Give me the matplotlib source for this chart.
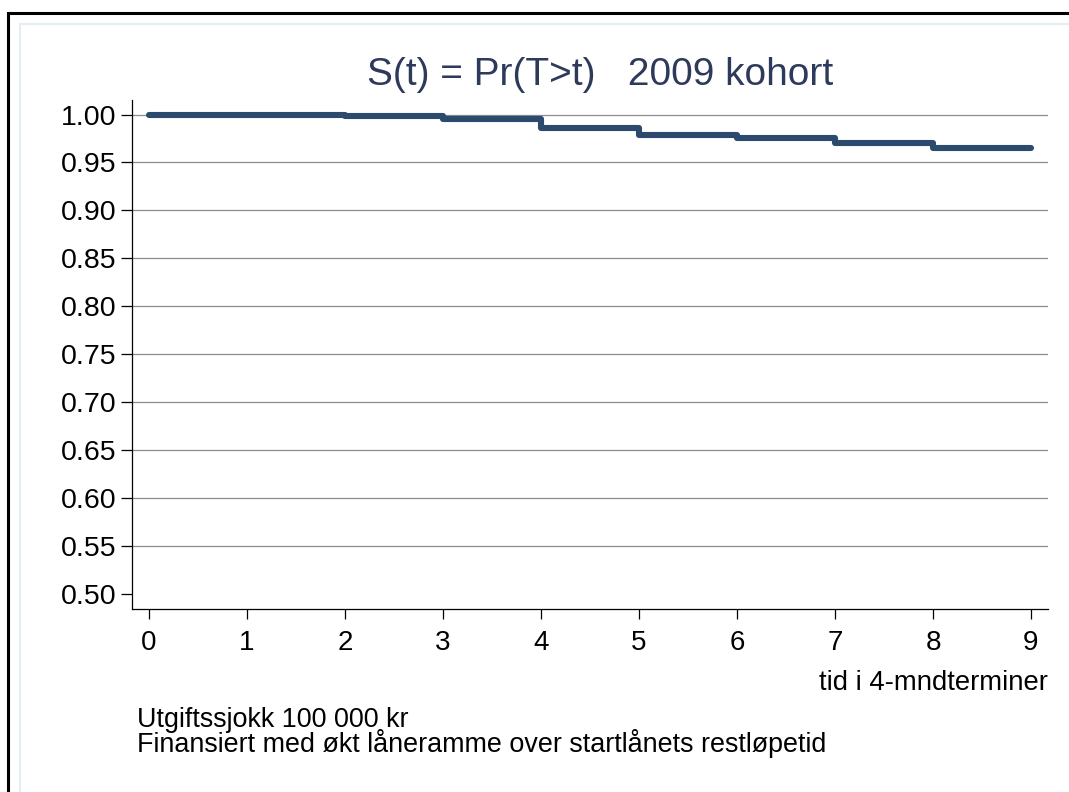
import matplotlib
matplotlib.use("Agg")
import matplotlib.pyplot as plt
from matplotlib.patches import Rectangle

# survival estimates per 4-month term
tid = [0, 1, 2, 3, 4, 5, 6, 7, 8, 9]
overlevelse = [1.000, 1.000, 0.998, 0.9953, 0.9856, 0.9786, 0.9752, 0.9699, 0.9647, 0.9647]

y_ticks = [0.50, 0.55, 0.60, 0.65, 0.70, 0.75, 0.80, 0.85, 0.90, 0.95, 1.00]
x_ticks = [0, 1, 2, 3, 4, 5, 6, 7, 8, 9]

plt.rcParams['font.family'] = ['Liberation Sans', 'DejaVu Sans']

W, H = 1069, 792
fig = plt.figure(figsize=(W / 100, H / 100), dpi=100)

# outer black frame and light inner frame (cropped at right/bottom)
fig.patches.append(Rectangle((8 / W, -0.1), 1.2, 1 - 13 / H + 0.1, transform=fig.transFigure,
                             fill=False, edgecolor='black', linewidth=2.2))
fig.patches.append(Rectangle((19.5 / W, -0.1), 1.2, 1 - 24 / H + 0.1, transform=fig.transFigure,
                             fill=False, edgecolor='#e6edf2', linewidth=1.5))

ax = fig.add_axes([132 / W, 1 - 609 / H, (1048 - 132) / W, (609 - 100) / H])
ax.step(tid, overlevelse, where='post', color='#2b4a6e', linewidth=4.4,
        solid_capstyle='round', solid_joinstyle='round', zorder=3)

ax.set_xlim(-17 / 98, 9 + 17 / 98)
ax.set_ylim(0.5 - 15 / 958, 1.0 + 14.5 / 958)
ax.set_yticks(y_ticks)
ax.set_yticklabels([f"{v:.2f}" for v in y_ticks])
ax.set_xticks(x_ticks)

for s in ['top', 'right']:
    ax.spines[s].set_visible(False)
for s in ['left', 'bottom']:
    ax.spines[s].set_linewidth(0.9)

ax.tick_params(axis='y', length=8, width=0.9, labelsize=20.5, pad=3)
ax.tick_params(axis='x', length=7, width=0.9, labelsize=20, pad=8)

ax.yaxis.grid(True, color='#8c8c8c', linewidth=0.9)
ax.set_axisbelow(True)
ax.yaxis.get_gridlines()[0].set_visible(False)

ax.set_xlabel('tid i 4-mndterminer', loc='right', fontsize=19.8, labelpad=10)

fig.text(600 / W, 1 - 85 / H, 'S(t) = Pr(T>t)   2009 kohort', ha='center', va='baseline',
         fontsize=28, color='#2e3a5c')
fig.text(137 / W, 1 - 752 / H, 'Utgiftssjokk 100 000 kr\nFinansiert med økt låneramme over startlånets restløpetid',
         ha='left', va='baseline', fontsize=19.4, linespacing=0.84)

fig.savefig('out.png', dpi=100)
